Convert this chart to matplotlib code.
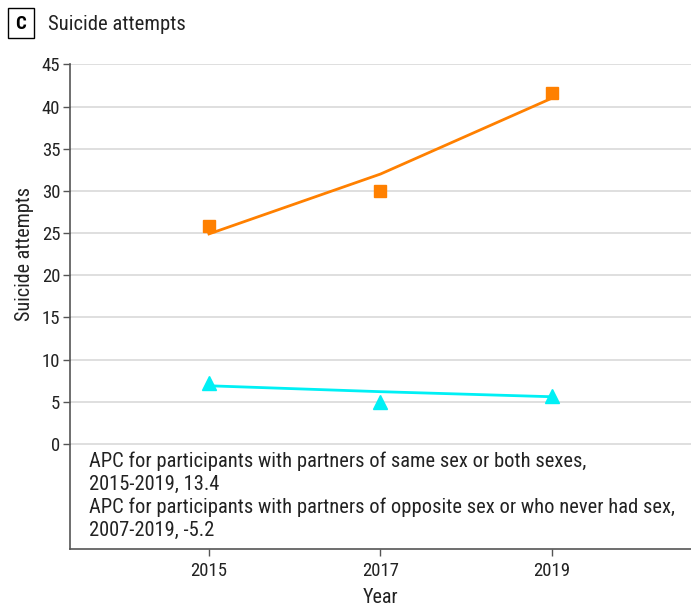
import matplotlib.pyplot as plt
from matplotlib import font_manager
from matplotlib.patches import Rectangle

names = {f.name for f in font_manager.fontManager.ttflist}
narrow = [n for n in ['Liberation Sans Narrow', 'Roboto Condensed', 'Open Sans Condensed',
                      'DejaVu Sans Condensed'] if n in names]
plt.rcParams['font.family'] = narrow + ['DejaVu Sans']
plt.rcParams['font.stretch'] = 'condensed'

years = [2015, 2017, 2019]
same_sex_obs = [25.8, 30.0, 41.6]
same_sex_fit = [24.9, 32.0, 41.0]
opp_sex_obs = [7.2, 5.0, 5.7]
opp_sex_fit = [6.9, 6.2, 5.6]
yticks = [0, 5, 10, 15, 20, 25, 30, 35, 40, 45]
notes = [
    "APC for participants with partners of same sex or both sexes,",
    "2015-2019, 13.4",
    "APC for participants with partners of opposite sex or who never had sex,",
    "2007-2019, -5.2",
]

orange = '#FF8000'
cyan = '#00F0F5'

fig = plt.figure(figsize=(6.91, 6.09), dpi=100)
ax = fig.add_axes([0.1013, 0.0985, 0.8987, 0.7965])

ax.plot(years, same_sex_fit, color=orange, lw=2, zorder=3)
ax.plot(years, same_sex_obs, 's', color=orange, ms=9, zorder=4)
ax.plot(years, opp_sex_fit, color=cyan, lw=2, zorder=3)
ax.plot(years, opp_sex_obs, '^', color=cyan, ms=10, zorder=4)

ax.set_xlim(2013.38, 2020.62)
ax.set_ylim(-12.45, 45.05)
ax.set_yticks(yticks)
ax.set_xticks(years)
for y in yticks:
    ax.axhline(y, color='#DCDCDC', lw=1.3, zorder=1)

for s in ['top', 'right']:
    ax.spines[s].set_visible(False)
for s in ['left', 'bottom']:
    ax.spines[s].set_color('#555555')
    ax.spines[s].set_linewidth(1.2)
ax.tick_params(axis='both', colors='#555555', labelcolor='#222222', labelsize=13.5, length=5, width=1)
ax.tick_params(axis='x', pad=4)
ax.tick_params(axis='y', pad=2)

ax.set_xlabel('Year', fontsize=14.5, color='#222222')
ax.xaxis.set_label_coords(0.5, -(597 - 549) / 485)
ax.xaxis.label.set_va('center')
ax.set_ylabel('Suicide attempts', fontsize=14.5, color='#222222')
ax.yaxis.set_label_coords(-0.073, 0.608)
ax.yaxis.label.set_va('center')

for i, line in enumerate(notes):
    ax.text(89 / 691, (609 - 461 - 23 * i) / 609, line, transform=fig.transFigure,
            fontsize=14.8, va='center', ha='left', color='#222222')

# panel letter box and title
fig.patches.append(Rectangle((8 / 691, 1 - 38 / 609), 26 / 691, 30 / 609,
                             transform=fig.transFigure, fill=False, ec='black', lw=1))
fig.text(21 / 691, 1 - 24 / 609, 'C', fontsize=13.5, fontweight='bold', ha='center', va='center')
fig.text(48 / 691, 1 - 24 / 609, 'Suicide attempts', fontsize=14.9, ha='left', va='center',
         color='#222222')

fig.savefig('out.png', dpi=100)
